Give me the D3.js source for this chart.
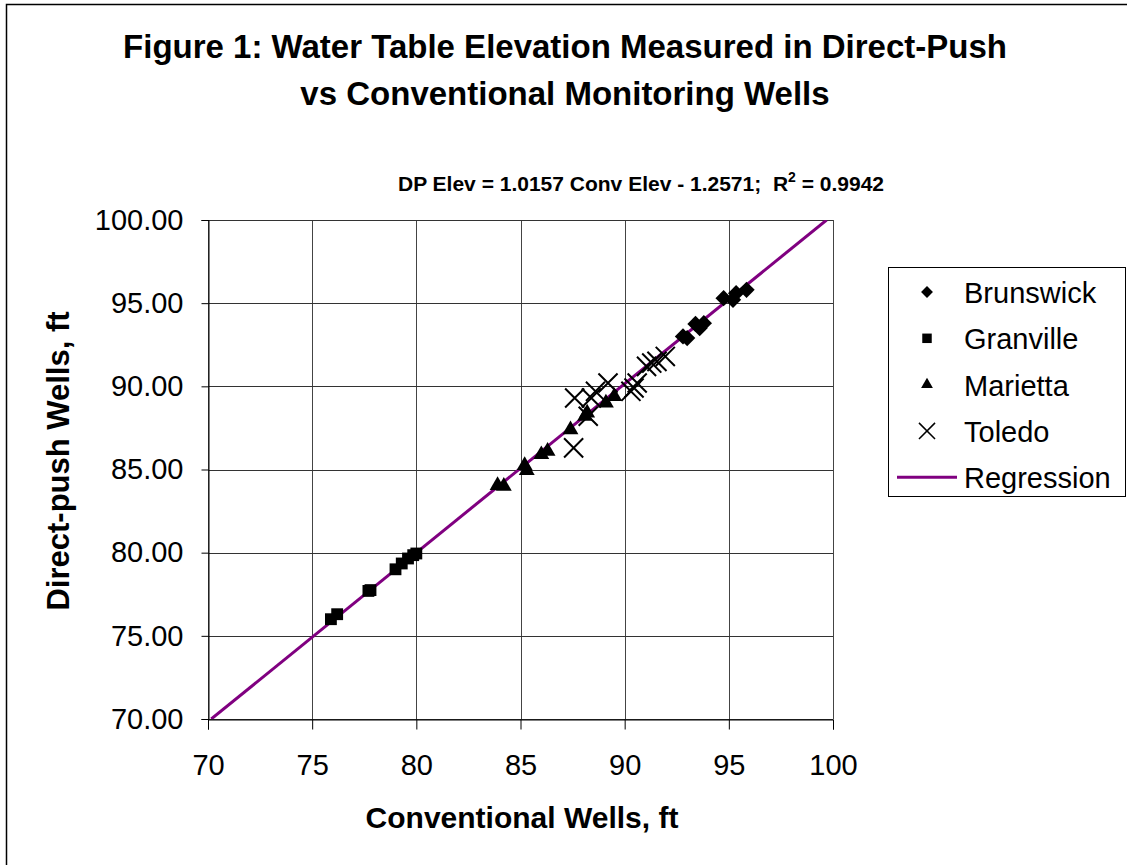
<!DOCTYPE html>
<html>
<head>
<meta charset="utf-8">
<script src="https://cdn.jsdelivr.net/npm/d3@7"></script>
<style>
  body { margin: 0; background: #fff; }
  svg { font-family: Arial, "Liberation Sans", sans-serif; }
</style>
</head>
<body>
<div id="chart"></div>
<script>
// Chart data (conv elev, dp elev)
var brunswick = [
  [92.8, 93.0], [93.0, 92.9], [93.4, 93.75], [93.6, 93.5], [93.8, 93.8],
  [94.75, 95.3], [95.2, 95.2], [95.35, 95.6], [95.85, 95.8]
];
var granville = [
  [75.9, 76.0], [76.2, 76.3], [77.7, 77.7], [77.8, 77.75], [79.0, 79.0],
  [79.3, 79.35], [79.6, 79.65], [79.85, 79.85], [80.0, 79.95]
];
var marietta = [
  [83.9, 84.05], [84.2, 84.0], [85.2, 85.25], [85.3, 84.95], [86.0, 85.9],
  [86.3, 86.1], [87.4, 87.4], [88.1, 88.2], [88.2, 88.4], [89.1, 89.0],
  [89.5, 89.4]
];
var toledo = [
  [87.6, 89.3], [87.55, 86.3], [88.25, 88.2], [88.4, 89.3], [88.6, 89.7],
  [89.2, 90.2], [90.3, 89.7], [90.45, 89.9], [90.6, 90.2], [91.05, 91.2],
  [91.3, 91.4], [91.55, 91.5], [91.95, 91.8]
];
var slope = 1.0157;
var intercept = -1.2571;

var xTicks = [70, 75, 80, 85, 90, 95, 100];
var yTicks = [70, 75, 80, 85, 90, 95, 100];
var legendNames = ["Brunswick", "Granville", "Marietta", "Toledo", "Regression"];

var width = 1127, height = 865;
var plot = {left: 208, top: 220, right: 833, bottom: 719};

var svg = d3.select("#chart").append("svg")
  .attr("width", width)
  .attr("height", height);

// outer frame
svg.append("rect")
  .attr("x", 6.5).attr("y", 4.5)
  .attr("width", width + 20).attr("height", height + 20)
  .attr("fill", "none").attr("stroke", "#000").attr("stroke-width", 1.5);

var x = d3.scaleLinear().domain([70, 100]).range([plot.left, plot.right]);
var y = d3.scaleLinear().domain([70, 100]).range([plot.bottom, plot.top]);

// grid
var grid = svg.append("g");
grid.selectAll("line.v").data(xTicks).enter().append("line")
  .attr("x1", function(d) { return Math.round(x(d)) + 0.5; })
  .attr("x2", function(d) { return Math.round(x(d)) + 0.5; })
  .attr("y1", plot.top).attr("y2", plot.bottom)
  .attr("stroke", "#444").attr("stroke-width", 1);
grid.selectAll("line.h").data(yTicks).enter().append("line")
  .attr("y1", function(d) { return Math.round(y(d)) + 0.5; })
  .attr("y2", function(d) { return Math.round(y(d)) + 0.5; })
  .attr("x1", plot.left).attr("x2", plot.right)
  .attr("stroke", "#333").attr("stroke-width", 1);

// axes
var xAxis = svg.append("g")
  .attr("transform", "translate(0," + (plot.bottom + 0.5) + ")")
  .call(d3.axisBottom(x).tickValues(xTicks).tickSize(10).tickPadding(25)
    .tickFormat(d3.format("d")));
var yAxis = svg.append("g")
  .attr("transform", "translate(" + (plot.left + 0.5) + ",0)")
  .call(d3.axisLeft(y).tickValues(yTicks).tickSize(7).tickPadding(18)
    .tickFormat(d3.format(".2f")));
[xAxis, yAxis].forEach(function(a) {
  a.select(".domain").attr("stroke", "#000");
  a.selectAll(".tick line").attr("stroke", "#000");
  a.selectAll("text")
    .attr("font-family", "Arial, 'Liberation Sans', sans-serif")
    .attr("font-size", 29).attr("fill", "#000");
});
xAxis.selectAll("text").attr("dy", "0.71em");

// regression line, clipped to plot area
svg.append("clipPath").attr("id", "clip").append("rect")
  .attr("x", plot.left).attr("y", plot.top)
  .attr("width", plot.right - plot.left).attr("height", plot.bottom - plot.top);
var xa = (70 - intercept) / slope, xb = (100 - intercept) / slope;
svg.append("line")
  .attr("clip-path", "url(#clip)")
  .attr("x1", x(xa)).attr("y1", y(slope * xa + intercept))
  .attr("x2", x(xb)).attr("y2", y(slope * xb + intercept))
  .attr("stroke", "#800080").attr("stroke-width", 3);

// markers
var symbols = {
  diamond: d3.symbol().type(d3.symbolDiamond2).size(170),
  square: d3.symbol().type(d3.symbolSquare).size(140),
  triangle: d3.symbol().type(d3.symbolTriangle2).size(180),
  cross: d3.symbol().type(d3.symbolTimes).size(240)
};

var drawSeries = function(data, sym, isCross) {
  svg.append("g").selectAll("path").data(data).enter().append("path")
    .attr("transform", function(d) { return "translate(" + x(d[0]) + "," + y(d[1]) + ")"; })
    .attr("d", sym)
    .attr("fill", isCross ? "none" : "#000")
    .attr("stroke", "#000")
    .attr("stroke-width", isCross ? 2 : 0);
};
drawSeries(granville, symbols.square);
drawSeries(marietta, symbols.triangle);
drawSeries(brunswick, symbols.diamond);
drawSeries(toledo, symbols.cross, true);

// titles
var titleG = svg.append("g").attr("font-weight", "bold").attr("text-anchor", "middle");
titleG.append("text").attr("x", 565).attr("y", 58).attr("font-size", 33)
  .text("Figure 1: Water Table Elevation Measured in Direct-Push");
titleG.append("text").attr("x", 565).attr("y", 105).attr("font-size", 33)
  .text("vs Conventional Monitoring Wells");
var sub = titleG.append("text").attr("x", 641).attr("y", 191).attr("font-size", 21);
sub.append("tspan").text("DP Elev = 1.0157 Conv Elev - 1.2571;\u00a0\u00a0R");
sub.append("tspan").attr("dy", -9).attr("font-size", 14).text("2");
sub.append("tspan").attr("dy", 9).text(" = 0.9942");

titleG.append("text").attr("x", 522).attr("y", 828).attr("font-size", 30)
  .text("Conventional Wells, ft");
titleG.append("text")
  .attr("transform", "translate(69,461) rotate(-90)")
  .attr("font-size", 31)
  .text("Direct-push Wells, ft");

// legend
var legend = svg.append("g");
legend.append("rect")
  .attr("x", 888.5).attr("y", 267.5).attr("width", 237).attr("height", 229)
  .attr("fill", "#fff").attr("stroke", "#000").attr("stroke-width", 1);
var legendSyms = [
  d3.symbol().type(d3.symbolDiamond2).size(90),
  d3.symbol().type(d3.symbolSquare).size(90),
  d3.symbol().type(d3.symbolTriangle2).size(100),
  d3.symbol().type(d3.symbolTimes).size(170),
  null
];
legendNames.forEach(function(name, i) {
  var cy = 292 + i * 46.3;
  if (legendSyms[i]) {
    legend.append("path")
      .attr("transform", "translate(927," + cy + ")")
      .attr("d", legendSyms[i])
      .attr("fill", i === 3 ? "none" : "#000")
      .attr("stroke", "#000").attr("stroke-width", i === 3 ? 1.5 : 0);
  } else {
    legend.append("line")
      .attr("x1", 897).attr("x2", 957).attr("y1", cy).attr("y2", cy)
      .attr("stroke", "#800080").attr("stroke-width", 3);
  }
  legend.append("text").attr("x", 964).attr("y", cy + 11)
    .attr("font-size", 29).text(name);
});
</script>
</body>
</html>
